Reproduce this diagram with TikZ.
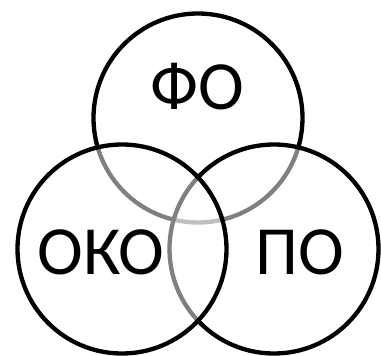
\documentclass[tikz,border=0pt]{standalone}
\usepackage{fontspec}
\setmainfont{Carlito}
\begin{document}
\begin{tikzpicture}[x=1pt,y=-1pt,
  venn/.style={circle, draw=black, line width=4.3pt, fill=white, fill opacity=0.5, draw opacity=1, inner sep=0pt, minimum size=209pt},
  lbl/.style={font=\fontsize{69}{72}\selectfont, inner sep=0pt, text=black, anchor=base}]
\useasboundingbox (0,0) rectangle (381,356);
\node[venn] (fo) at (198,118) {};
\node[venn] (po) at (274,249) {};
\node[venn] (oko) at (122,249) {};
\node[lbl] (tfo) at (197,110) {ФО};
\node[lbl] (toko) at (101,274) {ОКО};
\node[lbl] (tpo) at (300,274) {ПО};
\end{tikzpicture}
\end{document}
